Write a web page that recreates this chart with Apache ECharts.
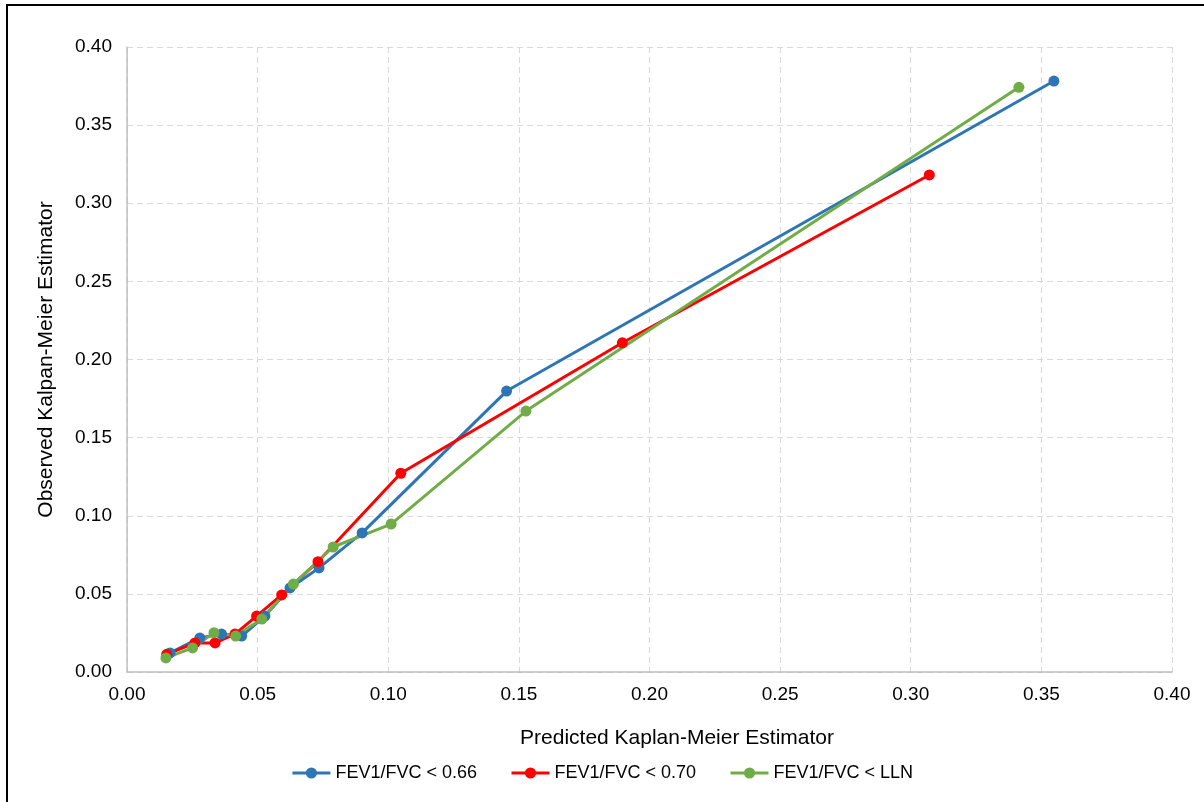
<!DOCTYPE html>
<html>
<head>
<meta charset="utf-8">
<script src="https://cdn.jsdelivr.net/npm/echarts@6/dist/echarts.min.js"></script>
<style>
  html, body { margin: 0; padding: 0; background: #fff; overflow: hidden; }
  #frame {
    position: absolute; left: 6px; top: 4px; width: 1210px; height: 810px;
    border-top: 2px solid #000; border-left: 2px solid #000;
    z-index: 10; pointer-events: none;
  }
  #chart { position: absolute; left: 0; top: 0; width: 1204px; height: 802px; }
</style>
</head>
<body>
<div id="frame"></div>
<div id="chart"></div>
<script>
// [predicted, observed] pairs
const blue066 = [
  [0.0165, 0.0122], [0.0279, 0.0218], [0.0362, 0.0243], [0.0439, 0.0230],
  [0.0528, 0.0358], [0.0624, 0.0538], [0.0735, 0.0666], [0.0900, 0.0890],
  [0.1453, 0.1798], [0.3548, 0.3782]
];
const red070 = [
  [0.0152, 0.0113], [0.0260, 0.0186], [0.0337, 0.0186], [0.0413, 0.0243],
  [0.0496, 0.0358], [0.0592, 0.0493], [0.0731, 0.0706], [0.1048, 0.1272],
  [0.1896, 0.2107], [0.3071, 0.3181]
];
const greenLLN = [
  [0.0149, 0.0090], [0.0251, 0.0154], [0.0333, 0.0252], [0.0416, 0.0230],
  [0.0516, 0.0339], [0.0637, 0.0563], [0.0789, 0.0800], [0.1011, 0.0947],
  [0.1527, 0.1670], [0.3414, 0.3742]
];
const seriesNames = ["FEV1/FVC < 0.66", "FEV1/FVC < 0.70", "FEV1/FVC < LLN"];
const seriesColors = ["#2e75b6", "#ff0000", "#70ad47"];

const chart = echarts.init(document.getElementById("chart"));

const font = "Liberation Sans, Arial, sans-serif";
const gridLine = { show: true, lineStyle: { color: "#d9d9d9", type: [6, 4], width: 1 } };

function makeSeries(name, data, color) {
  return {
    name: name,
    type: "line",
    data: data,
    symbol: "circle",
    symbolSize: 11,
    lineStyle: { color: color, width: 3 },
    itemStyle: { color: color },
    emphasis: { disabled: true },
    animation: false
  };
}

const option = {
  backgroundColor: "#fff",
  textStyle: { fontFamily: font },
  grid: { left: 127, right: 32, top: 47, bottom: 130 },
  legend: {
    bottom: 15,
    left: "center",
    itemWidth: 38,
    itemHeight: 14,
    itemGap: 33,
    lineStyle: { width: 3 },
    textStyle: { fontSize: 18, color: "#000", fontFamily: font },
    data: seriesNames
  },
  xAxis: {
    type: "value",
    min: 0, max: 0.4, interval: 0.05,
    name: "Predicted Kaplan-Meier Estimator",
    nameLocation: "middle",
    nameGap: 56,
    nameTextStyle: { fontSize: 21, color: "#000", fontFamily: font, padding: [0, 0, 0, 55] },
    axisLine: { show: true, lineStyle: { color: "#bfbfbf", width: 1.5 } },
    axisTick: { show: false },
    splitLine: gridLine,
    axisLabel: { fontSize: 19, color: "#000", margin: 13, formatter: v => v.toFixed(2) }
  },
  yAxis: {
    type: "value",
    min: 0, max: 0.4, interval: 0.05,
    name: "Observed Kalpan-Meier Estimator",
    nameLocation: "middle",
    nameGap: 70,
    nameTextStyle: { fontSize: 21, color: "#000", fontFamily: font },
    axisLine: { show: true, lineStyle: { color: "#bfbfbf", width: 1.5 } },
    axisTick: { show: false },
    splitLine: gridLine,
    axisLabel: { fontSize: 19, color: "#000", margin: 15, formatter: v => v.toFixed(2) }
  },
  series: [
    makeSeries(seriesNames[0], blue066, seriesColors[0]),
    makeSeries(seriesNames[1], red070, seriesColors[1]),
    makeSeries(seriesNames[2], greenLLN, seriesColors[2])
  ]
};

chart.setOption(option);
</script>
</body>
</html>
